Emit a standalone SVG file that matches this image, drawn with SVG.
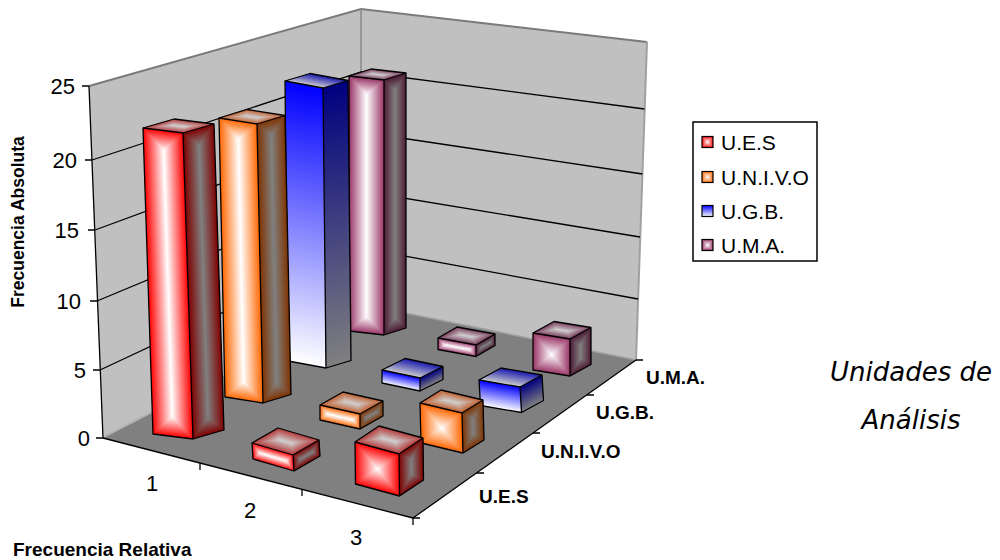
<svg xmlns="http://www.w3.org/2000/svg" xmlns:xlink="http://www.w3.org/1999/xlink" width="1000" height="560" viewBox="0 0 1000 560">
<style>
.t{font-family:"Liberation Sans",Arial,sans-serif;fill:#000}
.ax{font-size:22px}
.b{font-weight:bold}
.it{font-family:"DejaVu Sans",Verdana,sans-serif;font-style:italic;font-size:26px;fill:#000}
.ol{fill:none;stroke:#000;stroke-width:1.3;stroke-linejoin:round}
.grid{stroke:#000;stroke-width:1.3;fill:none}
.iso{isolation:isolate}
.dk{mix-blend-mode:darken}
.bf{fill:var(--f)}
.bs{fill:var(--s)}
.bt{fill:var(--t)}
.w0{stop-color:#fff;stop-opacity:0}.w1{stop-color:#fff;stop-opacity:1}
.g0{stop-color:#808080;stop-opacity:0}.g1{stop-color:#808080;stop-opacity:1}
.l0{stop-color:#cfcfcf;stop-opacity:0}.l1{stop-color:#cfcfcf;stop-opacity:1}
.ues{--f:#ff0000;--s:#800000;--t:#b33a3a}
.univo{--f:#ff6600;--s:#803300;--t:#c06030}
.ugb{--f:#0000ff;--s:#000080;--t:#1a1ab0}
.uma{--f:#993366;--s:#4d1a33;--t:#7a3d5c}
</style>
<defs>
<linearGradient id="hW50" x2="1" y2="0"><stop offset="0" class="w0"/><stop offset=".5" class="w1"/><stop offset="1" class="w0"/></linearGradient>
<linearGradient id="hW18" x2="1" y2="0"><stop offset="0" class="w0"/><stop offset=".18" class="w1"/><stop offset=".82" class="w1"/><stop offset="1" class="w0"/></linearGradient>
<linearGradient id="vW50" x2="0" y2="1"><stop offset="0" class="w0"/><stop offset=".5" class="w1"/><stop offset="1" class="w0"/></linearGradient>
<linearGradient id="vW06" x2="0" y2="1"><stop offset="0" class="w0"/><stop offset=".065" class="w1"/><stop offset=".935" class="w1"/><stop offset="1" class="w0"/></linearGradient>
<linearGradient id="vWl" x2="0" y2="1"><stop offset="0" class="w0"/><stop offset="1" class="w1"/></linearGradient>
<linearGradient id="hG50" x2="1" y2="0"><stop offset="0" class="g0"/><stop offset=".5" class="g1"/><stop offset="1" class="g0"/></linearGradient>
<linearGradient id="hG27" x2="1" y2="0"><stop offset="0" class="g0"/><stop offset=".27" class="g1"/><stop offset=".73" class="g1"/><stop offset="1" class="g0"/></linearGradient>
<linearGradient id="vG50" x2="0" y2="1"><stop offset="0" class="g0"/><stop offset=".5" class="g1"/><stop offset="1" class="g0"/></linearGradient>
<linearGradient id="vG06" x2="0" y2="1"><stop offset="0" class="g0"/><stop offset=".055" class="g1"/><stop offset=".945" class="g1"/><stop offset="1" class="g0"/></linearGradient>
<linearGradient id="vG33" x2="0" y2="1"><stop offset="0" class="g0"/><stop offset=".33" class="g1"/><stop offset=".67" class="g1"/><stop offset="1" class="g0"/></linearGradient>
<linearGradient id="vGl" x2="0" y2="1"><stop offset="0" class="g0"/><stop offset="1" class="g1"/></linearGradient>
<linearGradient id="hL35" x2="1" y2="0"><stop offset="0" class="l0"/><stop offset=".35" class="l1"/><stop offset=".65" class="l1"/><stop offset="1" class="l0"/></linearGradient>
<linearGradient id="vL50" x2="0" y2="1"><stop offset="0" class="l0"/><stop offset=".5" class="l1"/><stop offset="1" class="l0"/></linearGradient>
<linearGradient id="vLl" x2="0" y2="1"><stop offset="0" class="l0"/><stop offset="1" class="l1"/></linearGradient>

<g id="fT" class="iso"><rect class="bf" width="1" height="1"/><rect width="1" height="1" fill="url(#hW50)"/><g class="dk"><rect class="bf" width="1" height="1"/><rect width="1" height="1" fill="url(#vW06)"/></g></g>
<g id="fC" class="iso"><rect class="bf" width="1" height="1"/><rect width="1" height="1" fill="url(#hW50)"/><g class="dk"><rect class="bf" width="1" height="1"/><rect width="1" height="1" fill="url(#vW50)"/></g></g>
<g id="fF" class="iso"><rect class="bf" width="1" height="1"/><rect width="1" height="1" fill="url(#hW18)"/><g class="dk"><rect class="bf" width="1" height="1"/><rect width="1" height="1" fill="url(#vW50)"/></g></g>
<g id="sT" class="iso"><rect class="bs" width="1" height="1"/><rect width="1" height="1" fill="url(#hG50)"/><g class="dk"><rect class="bs" width="1" height="1"/><rect width="1" height="1" fill="url(#vG06)"/></g></g>
<g id="sC" class="iso"><rect class="bs" width="1" height="1"/><rect width="1" height="1" fill="url(#hG50)"/><g class="dk"><rect class="bs" width="1" height="1"/><rect width="1" height="1" fill="url(#vG33)"/></g></g>
<g id="sF" class="iso"><rect class="bs" width="1" height="1"/><rect width="1" height="1" fill="url(#hG27)"/><g class="dk"><rect class="bs" width="1" height="1"/><rect width="1" height="1" fill="url(#vG50)"/></g></g>
<g id="tp" class="iso"><rect class="bt" width="1" height="1"/><rect width="1" height="1" fill="url(#hL35)"/><g class="dk"><rect class="bt" width="1" height="1"/><rect width="1" height="1" fill="url(#vL50)"/></g></g>
<g id="fB"><rect class="bf" width="1" height="1"/><rect width="1" height="1" fill="url(#vWl)"/></g>
<g id="sB"><rect class="bs" width="1" height="1"/><rect width="1" height="1" fill="url(#vGl)"/></g>
<g id="tB"><rect class="bt" width="1" height="1"/><rect width="1" height="1" fill="url(#vLl)"/></g>
</defs>

<rect width="1000" height="560" fill="#fff"/>

<g id="walls">
<polygon points="89,86 361,9 361,304 103,438" fill="#c0c0c0"/>
<polygon points="361,9 647,42 636,360 361,304" fill="#c0c0c0"/>
<polyline points="89,86 361,9 647,42" fill="none" stroke="#7a7a7a" stroke-width="2"/>
<line x1="361" y1="9" x2="361" y2="304" stroke="#8a8a8a" stroke-width="1.5"/>
<line x1="647" y1="42" x2="636" y2="360" stroke="#a0a0a0" stroke-width="2"/>
<g class="grid">
<polyline points="92,160 361,72 644.5,109"/>
<polyline points="95,230 361,132 642.4,174"/>
<polyline points="97,301 361,191 640,237"/>
<polyline points="100,370 361,248 638,299"/>
</g>
</g>

<g id="floor">
<polygon points="103,438 361,304 636,360 413,518" fill="#808080"/>
<line x1="105" y1="436" x2="361" y2="304" stroke="#b4b4b4" stroke-width="2"/>
<line x1="361" y1="304" x2="636" y2="360" stroke="#a0a0a0" stroke-width="1.5"/>
</g>

<g id="axes" stroke="#000" stroke-width="1.3" fill="none">
<line x1="89" y1="86" x2="103" y2="438"/>
<path d="M82 86H89M85 160H92M88 230H95M90 301H97M93 370H100M96 438H103"/>
<line x1="103" y1="438" x2="413" y2="518"/>
<path d="M200 463V470M302 489V496M413 518V525"/>
<line x1="413" y1="518" x2="636" y2="360"/>
<path d="M413 518H420M476.5 473H484M533 433H540M587 395H594M636 360H643"/>
</g>

<g id="axis-labels" class="t ax">
<text x="75" y="94" text-anchor="end">25</text>
<text x="77" y="168" text-anchor="end">20</text>
<text x="79" y="238" text-anchor="end">15</text>
<text x="81" y="309" text-anchor="end">10</text>
<text x="86" y="378" text-anchor="end">5</text>
<text x="90" y="446" text-anchor="end">0</text>
<text x="152" y="491" text-anchor="middle">1</text>
<text x="250" y="518" text-anchor="middle">2</text>
<text x="356" y="545" text-anchor="middle">3</text>
</g>
<g id="series-labels" class="t b" font-size="19">
<text x="479" y="503">U.E.S</text>
<text x="541" y="458">U.N.I.V.O</text>
<text x="596" y="419">U.G.B.</text>
<text x="646" y="384">U.M.A.</text>
</g>
<text id="y-title" class="t b" font-size="17.5" text-anchor="middle" transform="translate(24,222) rotate(-90)">Frecuencia Absoluta</text>
<text id="x-title" class="t b" font-size="19" x="13" y="556">Frecuencia Relativa</text>
<g id="z-title" class="it" text-anchor="middle">
<text x="911" y="381">Unidades de</text>
<text x="911" y="429">Análisis</text>
</g>

<!-- back row: U.M.A. -->
<g id="uma-1" class="uma">
<use href="#fT" transform="matrix(35 4 0 255 349 76)"/>
<use href="#sT" transform="matrix(22 -7 0 255 384 80)"/>
<use href="#tp" transform="matrix(35 4 -22 7 371 69)"/>
<path class="ol" d="M349 76L384 80L384 335L349 331ZM384 80L406 73L406 328L384 335M349 76L371 69L406 73"/>
</g>
<g id="uma-2" class="uma">
<use href="#fF" transform="matrix(38 7 0 11.5 438 338)"/>
<use href="#sF" transform="matrix(19 -11 0 11.5 476 345)"/>
<use href="#tp" transform="matrix(38 7 -19 11 457 327)"/>
<path class="ol" d="M438 338L476 345L476 356.5L438 349.5ZM476 345L495 334L495 345.5L476 356.5M438 338L457 327L495 334"/>
</g>
<g id="uma-3" class="uma">
<use href="#fC" transform="matrix(37 6 0 37 533 333)"/>
<use href="#sC" transform="matrix(21 -11.5 0 37 570 339)"/>
<use href="#tp" transform="matrix(37 6 -21 11.5 554 321.5)"/>
<path class="ol" d="M533 333L570 339L570 376L533 370ZM570 339L591 327.5L591 364.5L570 376M533 333L554 321.5L591 327.5"/>
</g>

<!-- U.G.B. -->
<g id="ugb-1" class="ugb">
<use href="#fB" transform="matrix(38 7 3 280 285 81)"/>
<use href="#sB" transform="matrix(25 -7.5 3 280 323 88)"/>
<use href="#tB" transform="matrix(38 7 -25 7.5 310 73.5)"/>
<path class="ol" d="M285 81L323 88L326 368L288 361ZM323 88L348 80.5L351 360.5L326 368M285 81L310 73.5L348 80.5"/>
</g>
<g id="ugb-2" class="ugb">
<use href="#fB" transform="matrix(38 8 0 13 382 370)"/>
<use href="#sB" transform="matrix(23 -11.5 0 13 420 378)"/>
<use href="#tB" transform="matrix(38 8 -23 11.5 405 358.5)"/>
<path class="ol" d="M382 370L420 378L420 391L382 383ZM420 378L443 366.5L443 379.5L420 391M382 370L405 358.5L443 366.5"/>
</g>
<g id="ugb-3" class="ugb">
<use href="#fB" transform="matrix(41 7 1.5 25.5 479 380)"/>
<use href="#sB" transform="matrix(22 -12 1.5 25.5 520 387)"/>
<use href="#tB" transform="matrix(41 7 -22 12 501 368)"/>
<path class="ol" d="M479 380L520 387L521.5 412.5L480.5 405.5ZM520 387L542 375L543.5 400.5L521.5 412.5M479 380L501 368L542 375"/>
</g>

<!-- U.N.I.V.O -->
<g id="univo-1" class="univo">
<use href="#fT" transform="matrix(38 6 6 279 219 118)"/>
<use href="#sT" transform="matrix(28 -8.5 6 279 257 124)"/>
<use href="#tp" transform="matrix(38 6 -28 8.5 247 109.5)"/>
<path class="ol" d="M219 118L257 124L263 403L225 397ZM257 124L285 115.5L291 394.5L263 403M219 118L247 109.5L285 115.5"/>
</g>
<g id="univo-2" class="univo">
<use href="#fF" transform="matrix(40 9 0 15 320 405)"/>
<use href="#sF" transform="matrix(23 -13 0 15 360 414)"/>
<use href="#tp" transform="matrix(40 9 -23 13 343 392)"/>
<path class="ol" d="M320 405L360 414L360 429L320 420ZM360 414L383 401L383 416L360 429M320 405L343 392L383 401"/>
</g>
<g id="univo-3" class="univo">
<use href="#fC" transform="matrix(42 10 1 40 420 403)"/>
<use href="#sC" transform="matrix(21 -13 1 40 462 413)"/>
<use href="#tp" transform="matrix(42 10 -21 13 441 390)"/>
<path class="ol" d="M420 403L462 413L463 453L421 443ZM462 413L483 400L484 440L463 453M420 403L441 390L483 400"/>
</g>

<!-- front row: U.E.S -->
<g id="ues-1" class="ues">
<use href="#fT" transform="matrix(40 5 10 306 143 128)"/>
<use href="#sT" transform="matrix(31 -9 10 306 183 133)"/>
<use href="#tp" transform="matrix(40 5 -31 9 174 119)"/>
<path class="ol" d="M143 128L183 133L193 439L153 434ZM183 133L214 124L224 430L193 439M143 128L174 119L214 124"/>
</g>
<g id="ues-2" class="ues">
<use href="#fF" transform="matrix(41 12 1 16 252 443)"/>
<use href="#sF" transform="matrix(26 -15 1 16 293 455)"/>
<use href="#tp" transform="matrix(41 12 -26 15 278 428)"/>
<path class="ol" d="M252 443L293 455L294 471L253 459ZM293 455L319 440L320 456L294 471M252 443L278 428L319 440"/>
</g>
<g id="ues-3" class="ues">
<use href="#fC" transform="matrix(44 12 0.5 42 355 442)"/>
<use href="#sC" transform="matrix(24 -16 0.5 42 399 454)"/>
<use href="#tp" transform="matrix(44 12 -24 16 379 426)"/>
<path class="ol" d="M355 442L399 454L399.5 496L355.5 484ZM399 454L423 438L423.5 480L399.5 496M355 442L379 426L423 438"/>
</g>

<g id="legend">
<rect x="693" y="122" width="124" height="139" fill="#fff" stroke="#000" stroke-width="1.5"/>
<g class="ues"><use href="#fC" transform="matrix(11 0 0 11 702 136.5)"/></g>
<g class="univo"><use href="#fC" transform="matrix(11 0 0 11 702 171.5)"/></g>
<g class="ugb"><use href="#fB" transform="matrix(11 0 0 11 702 205.5)"/></g>
<g class="uma"><use href="#fC" transform="matrix(11 0 0 11 702 239.5)"/></g>
<g fill="none" stroke="#000" stroke-width="1.2">
<rect x="702" y="136.5" width="11" height="11"/>
<rect x="702" y="171.5" width="11" height="11"/>
<rect x="702" y="205.5" width="11" height="11"/>
<rect x="702" y="239.5" width="11" height="11"/>
</g>
<g class="t" font-size="21">
<text x="721" y="149.5">U.E.S</text>
<text x="721" y="184.5">U.N.I.V.O</text>
<text x="721" y="218.5">U.G.B.</text>
<text x="721" y="252.5">U.M.A.</text>
</g>
</g>
</svg>
